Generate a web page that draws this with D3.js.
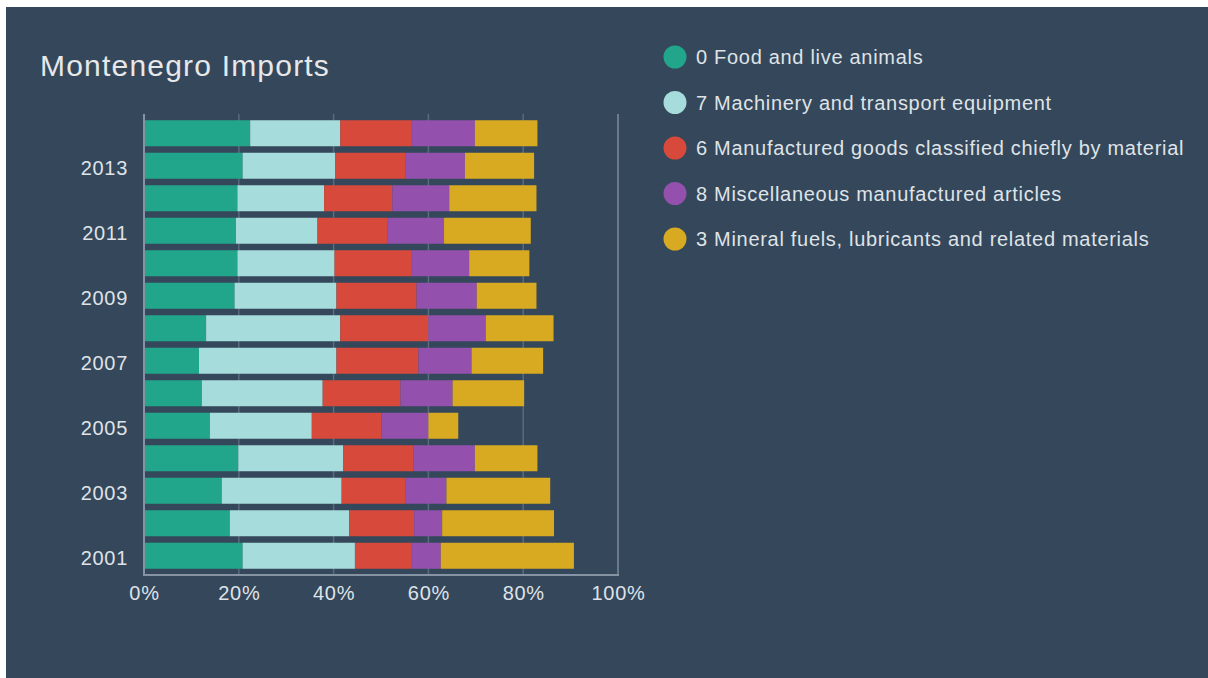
<!DOCTYPE html>
<html>
<head>
<meta charset="utf-8">
<script src="https://cdn.jsdelivr.net/npm/d3@7"></script>
<style>
  html, body { margin: 0; padding: 0; background: #ffffff; }
  svg { display: block; }
</style>
</head>
<body>
<svg id="chart" width="1208" height="678"></svg>
<script>
const years = ["2001","2002","2003","2004","2005","2006","2007","2008","2009","2010","2011","2012","2013","2014"];
const seriesNames = [
  "0 Food and live animals",
  "7 Machinery and transport equipment",
  "6 Manufactured goods classified chiefly by material",
  "8 Miscellaneous manufactured articles",
  "3 Mineral fuels, lubricants and related materials"
];
const seriesColors = ["#21a68b", "#a6dcdb", "#d74a3b", "#9351ad", "#d7aa22"];
// shares in % per year (2001..2014)
const food      = [20.8, 18.1, 16.4, 19.9, 13.9, 12.2, 11.6, 13.1, 19.1, 19.7, 19.4, 19.7, 20.8, 22.4];
const machinery = [23.7, 25.2, 25.3, 22.1, 21.5, 25.5, 29.0, 28.3, 21.5, 20.5, 17.2, 18.3, 19.5, 19.0];
const manufact  = [12.0, 13.7, 13.4, 14.8, 14.7, 16.4, 17.3, 18.6, 16.9, 16.3, 14.7, 14.4, 14.8, 15.1];
const misc      = [ 6.1,  5.9,  8.7, 13.0,  9.9, 11.0, 11.2, 12.1, 12.7, 12.1, 12.0, 12.0, 12.6, 13.3];
const fuels     = [28.1, 23.6, 21.9, 13.2,  6.3, 15.1, 15.1, 14.3, 12.6, 12.7, 18.3, 18.4, 14.6, 13.2];
const xTicks = [0, 20, 40, 60, 80, 100];
const labeledYears = ["2001","2003","2005","2007","2009","2011","2013"];

const seriesValues = [food, machinery, manufact, misc, fuels];
const FONT = "'Liberation Sans', Arial, sans-serif";

const svg = d3.select("#chart");
svg.append("rect").attr("x", 6).attr("y", 7).attr("width", 1202).attr("height", 671).attr("fill", "#35475b");

svg.append("text").attr("x", 40).attr("y", 76)
  .attr("font-family", FONT).attr("font-size", 30).attr("letter-spacing", 1.2)
  .attr("fill", "#e6e8ea").text("Montenegro Imports");

const x = d3.scaleLinear().domain([0, 100]).range([144, 618]);
const y = d3.scaleBand().domain(years.slice().reverse()).range([117, 572]).paddingInner(0.2).paddingOuter(0.1);

const plotTop = 114, plotBottom = 575;

// gridlines
svg.append("g").selectAll("line").data(xTicks.filter(d => d > 0)).join("line")
  .attr("x1", d => x(d)).attr("x2", d => x(d))
  .attr("y1", plotTop).attr("y2", plotBottom)
  .attr("stroke", d => d === 100 ? "#7c8b9b" : "#5a6b7d").attr("stroke-width", 1.5);

// stacked bars
const rows = years.map((yr, i) => {
  const o = { year: yr };
  seriesNames.forEach((s, k) => o[s] = seriesValues[k][i]);
  return o;
});
const stack = d3.stack().keys(seriesNames)(rows);
svg.append("g").selectAll("g").data(stack).join("g")
  .attr("fill", (d, i) => seriesColors[i])
  .selectAll("rect").data(d => d).join("rect")
  .attr("x", d => x(d[0]))
  .attr("width", d => x(d[1]) - x(d[0]))
  .attr("y", d => y(d.data.year))
  .attr("height", y.bandwidth());

// axes lines
svg.append("line").attr("x1", 144).attr("x2", 144).attr("y1", plotTop).attr("y2", plotBottom)
  .attr("stroke", "#8593a2").attr("stroke-width", 2);
svg.append("line").attr("x1", 143).attr("x2", 619).attr("y1", plotBottom).attr("y2", plotBottom)
  .attr("stroke", "#8593a2").attr("stroke-width", 2);

// x tick labels
const xAxis = d3.axisBottom(x).tickValues(xTicks).tickFormat(d => d + "%").tickSize(0).tickPadding(11);
const gx = svg.append("g").attr("transform", `translate(0,${plotBottom})`).call(xAxis);
gx.select(".domain").remove();
gx.selectAll("text").attr("font-family", FONT).attr("font-size", 20).attr("letter-spacing", 0.7).attr("fill", "#dfe3e7");

// y tick labels
const yAxis = d3.axisLeft(y).tickValues(labeledYears).tickSize(0).tickPadding(16);
const gy = svg.append("g").attr("transform", "translate(144,0)").call(yAxis);
gy.select(".domain").remove();
gy.selectAll("text").attr("font-family", FONT).attr("font-size", 20).attr("letter-spacing", 0.7).attr("fill", "#dfe3e7").attr("dy", "0.45em");

// legend
const leg = svg.append("g").selectAll("g").data(seriesNames).join("g")
  .attr("transform", (d, i) => `translate(675,${57 + i * 45.5})`);
leg.append("circle").attr("r", 11.5).attr("fill", (d, i) => seriesColors[i]);
leg.append("text").attr("x", 21).attr("dy", "0.35em")
  .attr("font-family", FONT).attr("font-size", 20).attr("letter-spacing", 0.7).attr("fill", "#dfe3e7")
  .text(d => d);
</script>
</body>
</html>
